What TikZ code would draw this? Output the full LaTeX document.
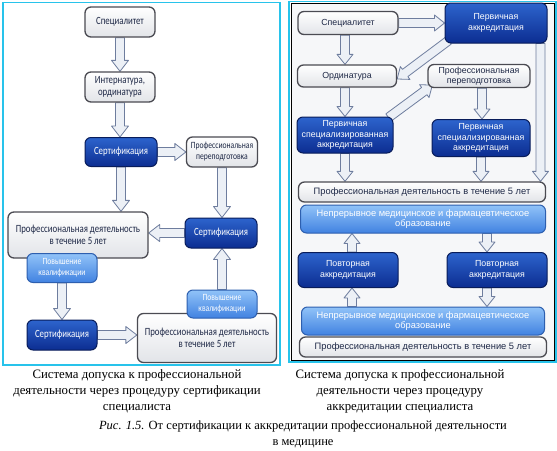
\documentclass[tikz,border=0pt]{standalone}
\usepackage{fontspec}
\setmainfont{Liberation Serif}
\newfontfamily\lfont[FakeStretch=0.8]{Carlito}
\newfontfamily\rfont{Liberation Sans}
\usetikzlibrary{calc,backgrounds}
\definecolor{dkA}{RGB}{45,100,205}
\definecolor{dkB}{RGB}{12,45,145}
\definecolor{dkL}{RGB}{8,28,90}
\definecolor{ltA}{RGB}{145,195,248}
\definecolor{ltB}{RGB}{65,130,225}
\definecolor{ltL}{RGB}{45,95,175}
\definecolor{wL}{RGB}{75,75,82}
\definecolor{wB}{RGB}{226,228,232}
\definecolor{txt}{RGB}{30,40,70}
\definecolor{arF}{RGB}{236,240,246}
\definecolor{arL}{RGB}{110,125,158}
\definecolor{cyanL}{RGB}{40,195,235}
\definecolor{rbg}{RGB}{246,247,249}
\begin{document}
\begin{tikzpicture}[x=1pt,y=-1pt,
 box/.style={rounded corners=6pt, align=center, inner sep=1pt, line width=1pt},
 wbox/.style={box, draw=wL, line width=1.3pt, top color=white, bottom color=wB, text=txt},
 dbox/.style={box, draw=dkL, top color=dkA, bottom color=dkB, text=white},
 lbox/.style={box, draw=ltL, top color=ltA, bottom color=ltB, text=white},
 lf/.style={font=\lfont\fontsize{11}{12.5}\selectfont},
 lfs/.style={font=\lfont\fontsize{9.5}{11}\selectfont},
 rf/.style={font=\rfont\fontsize{8.8}{10.5}\selectfont},
 rfb/.style={font=\rfont\fontsize{9.3}{10.8}\selectfont},
 fat/.style n args={3}{fill=arF, draw=arL, line width=0.8pt, line join=round,
  to path={-- ($(\tikztostart)!#1!90:(\tikztotarget)$)
   -- ($($(\tikztotarget)!#3!(\tikztostart)$)!#1!90:(\tikztotarget)$)
   -- ($($(\tikztotarget)!#3!(\tikztostart)$)!#2!90:(\tikztotarget)$)
   -- (\tikztotarget)
   -- ($($(\tikztotarget)!#3!(\tikztostart)$)!#2!-90:(\tikztotarget)$)
   -- ($($(\tikztotarget)!#3!(\tikztostart)$)!#1!-90:(\tikztotarget)$)
   -- ($(\tikztostart)!#1!-90:(\tikztotarget)$) -- cycle}},
 fa/.style={fat={4.5pt}{8.5pt}{11pt}},
 fr/.style={fat={4.5pt}{8pt}{10pt}},
 captxt/.style={align=center, font=\fontsize{12.8}{16}\selectfont}
]
\useasboundingbox (0,0) rectangle (557,450);
% ---------- left panel
\node[wbox,lf,minimum width=70pt,minimum height=30pt] (L1) at (120,22) {Специалитет};
\node[wbox,lf,minimum width=70pt,minimum height=30pt] (L2) at (120,87) {Интернатура,\\ординатура};
\node[dbox,lf,minimum width=72pt,minimum height=29pt] (L3) at (121,152) {Сертификация};
\node[wbox,lfs,minimum width=71pt,minimum height=30pt] (L4) at (222,152) {Профессиональная\\переподготовка};
\node[wbox,lf,minimum width=140pt,minimum height=46pt] (L5) at (78,235) {Профессиональная деятельность\\в течение 5 лет};
\node[dbox,lf,minimum width=72pt,minimum height=30pt] (L6) at (221,233) {Сертификация};
\node[lbox,lfs,minimum width=70pt,minimum height=29pt] (L7) at (62,268) {Повышение\\квалификации};
\node[dbox,lf,minimum width=70pt,minimum height=30pt] (L8) at (62,335) {Сертификация};
\node[wbox,lf,minimum width=139pt,minimum height=49pt] (L9) at (207,338) {Профессиональная деятельность\\в течение 5 лет};
\node[lbox,lfs,minimum width=70pt,minimum height=28pt] (L10) at (222,304) {Повышение\\квалификации};
% ---------- right panel
\node[wbox,rf,minimum width=100pt,minimum height=23pt] (R1) at (348,23) {Специалитет};
\node[dbox,rf,minimum width=102pt,minimum height=40pt] (R2) at (496,23) {Первичная\\аккредитация};
\node[wbox,rf,minimum width=99pt,minimum height=22pt] (R3) at (347,76) {Ординатура};
\node[wbox,rf,minimum width=102pt,minimum height=23pt,inner sep=0pt] (R4) at (479,76) {Профессиональная\\переподготовка};
\node[dbox,rf,minimum width=96pt,minimum height=36pt] (R5) at (345,135) {Первичная\\специализированная\\аккредитация};
\node[dbox,rf,minimum width=98pt,minimum height=37pt] (R6) at (481,138) {Первичная\\специализированная\\аккредитация};
\node[wbox,rfb,minimum width=247pt,minimum height=20pt] (R7) at (422,192) {Профессиональная деятельность в течение 5 лет};
\node[lbox,rfb,minimum width=245pt,minimum height=28pt] (R8) at (423,219) {Непрерывное медицинское и фармацевтическое\\образование};
\node[dbox,rf,minimum width=100pt,minimum height=35pt] (R9) at (348,270) {Повторная\\аккредитация};
\node[dbox,rf,minimum width=100pt,minimum height=35pt] (R10) at (497,270) {Повторная\\аккредитация};
\node[lbox,rfb,minimum width=243pt,minimum height=28pt] (R11) at (423,321) {Непрерывное медицинское и фармацевтическое\\образование};
\node[wbox,rfb,minimum width=247pt,minimum height=20pt] (R12) at (423,347) {Профессиональная деятельность в течение 5 лет};
% ---------- captions
\node[captxt] (C1) at (137,391) {Система допуска к профессиональной\\деятельности через процедуру сертификации\\специалиста};
\node[captxt] (C2) at (400,391) {Система допуска к профессиональной\\деятельности через процедуру\\аккредитации специалиста};
\node[captxt,font=\fontsize{12.5}{16}\selectfont] (C3) at (303,434) {\textit{Рис. 1.5.} От сертификации к аккредитации профессиональной деятельности\\в медицине};
\begin{scope}[on background layer]
 \draw[cyanL, line width=1.5pt, fill=white] (3,2.5) rectangle (280,365);
 \draw[cyanL, line width=1.2pt] (289,1.5) rectangle (556,362);
 \draw[black, line width=1pt, fill=rbg] (291,3.5) rectangle (554,360);
 % left arrows
 \path[fa] (L1.south) to (L1.south |- L2.north);
 \path[fa] (L2.south) to (L2.south |- L3.north);
 \path[fa] (L3.east) to (L3.east -| L4.west);
 \path[fa] (L3.south) to (L3.south |- L5.north);
 \path[fa] (L4.south) to (L4.south |- L6.north);
 \path[fa] (L6.west) to (L6.west -| L5.east);
 \path[fa] (L7.south) to (L7.south |- L8.north);
 \path[fa] (L8.east) to (L8.east -| L9.west);
 \path[fa] (L10.north) to (L10.north |- L6.south);
 % right arrows
 \path[fr] (R1.east) to (R1.east -| R2.west);
 \path[fr] ([xshift=-3pt]R1.south) to ([xshift=-3pt]R1.south |- R3.north);
 \path[fr] ([xshift=4pt,yshift=3pt]R2.south west) to ([yshift=-3pt]R3.east);
 \path[fr] ([xshift=-2pt]R3.south) to ([xshift=-2pt]R3.south |- R5.north);
 \path[fr] ([xshift=-5pt,yshift=-1pt]R5.north east) to ([xshift=5pt,yshift=3pt]R4.south west);
 \path[fr] ([xshift=3pt]R4.south) to ([xshift=3pt]R4.south |- R6.north);
 \path[fr] ([xshift=-7pt]R2.south east) to ([xshift=-7pt]R2.south east |- R7.north);
 \path[fr] (R5.south) to (R5.south |- R7.north);
 \path[fr] (R6.south) to (R6.south |- R7.north);
 \path[fr] ([xshift=4pt]R9.north) to ([xshift=4pt]R9.north |- R8.south);
 \path[fr] ([xshift=-10pt]R10.north |- R8.south) to ([xshift=-10pt]R10.north);
 \path[fr] ([xshift=4pt]R9.south |- R11.north) to ([xshift=4pt]R9.south);
 \path[fr] ([xshift=-10pt]R10.south) to ([xshift=-10pt]R10.south |- R11.north);
\end{scope}
\end{tikzpicture}
\end{document}
